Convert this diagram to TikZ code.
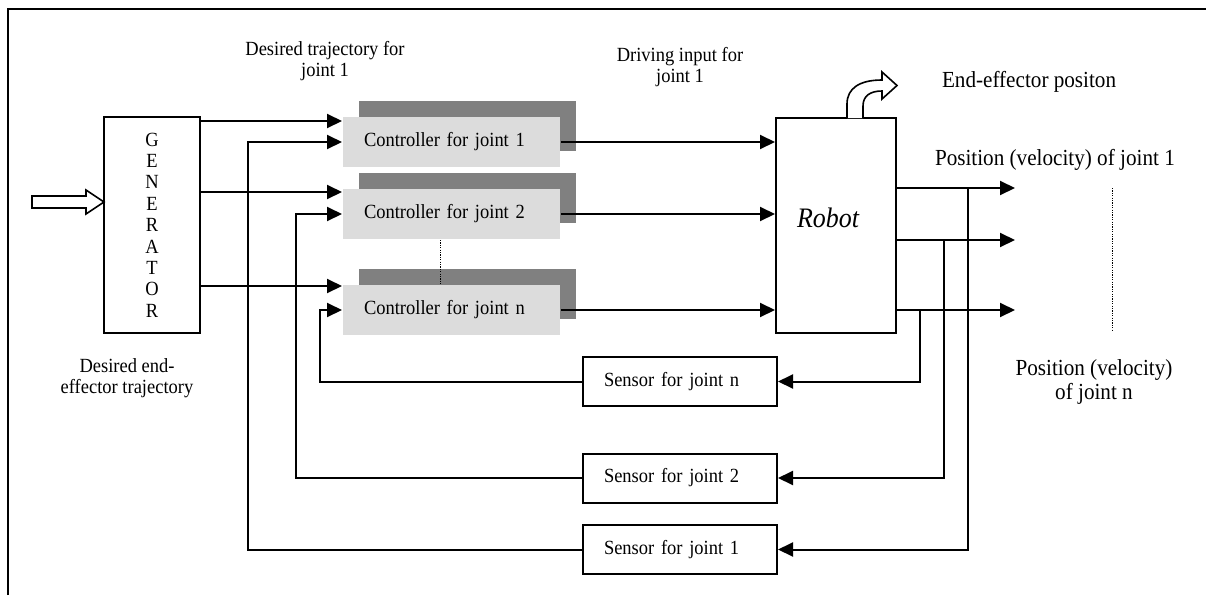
\documentclass[tikz,border=0pt]{standalone}
\usepackage{fontspec}
\setmainfont{Liberation Serif}[FakeStretch=0.92]
\usetikzlibrary{arrows.meta,shadows}

\definecolor{ctrlfill}{HTML}{DCDCDC}
\definecolor{ctrlshade}{HTML}{808080}

\begin{document}
\begin{tikzpicture}[x=0.5pt,y=-0.5pt,
  line width=1pt,
  >={Triangle[length=7.5pt,width=7pt]},
  txt/.style={inner sep=0pt, align=center, font=\fontsize{10.05}{10.5}\selectfont},
  bigtxt/.style={inner sep=0pt, align=center, font=\fontsize{11.5}{12}\selectfont},
  ctrlbox/.style={fill=ctrlfill, text width=87.5pt, inner xsep=10.5pt, inner ysep=0pt,
    minimum height=25pt, align=left, font=\fontsize{10.05}{11}\selectfont,
    drop shadow={shadow xshift=8pt, shadow yshift=8pt, opacity=1, fill=ctrlshade}},
  sensorbox/.style={draw, fill=white, text width=76pt, inner xsep=10.5pt, inner ysep=0pt,
    minimum height=24.5pt, align=left, font=\fontsize{10.05}{11}\selectfont},
  plainbox/.style={draw, fill=white, inner sep=0pt},
  dots/.style={line width=0.5pt, dash pattern=on 0.6pt off 0.6pt},
  hollow/.style={draw, fill=white, line width=0.8pt, line join=miter}
]
\useasboundingbox (0,0) rectangle (1206,595);

% frame
\draw (8,595) -- (8,9) -- (1206,9);

% generator
\node[plainbox, minimum width=48pt, minimum height=108pt, align=center,
  font=\fontsize{10.05}{10.7}\selectfont] (gen) at (152,225)
  {G\\E\\N\\E\\R\\A\\T\\O\\R};

% controllers (shadow offset up and right)
\node[ctrlbox] (c1) at (451.5,142) {Controller for joint 1};
\node[ctrlbox] (c2) at (451.5,214) {Controller for joint 2};
\node[ctrlbox] (cn) at (451.5,310) {Controller for joint n};
\draw[dots] ([xshift=-5.75pt]c2.south) -- ([xshift=-5.75pt]cn.north);

% robot
\node[plainbox, minimum width=60pt, minimum height=107.5pt] (robot) at (836,225.5) {};
\node[inner sep=0pt, font=\fontsize{14.1}{15}\selectfont\itshape] (robotlbl) at (828,218) {Robot};

% sensors
\node[sensorbox] (sn) at (680,381.5) {Sensor for joint n};
\node[sensorbox] (s2) at (680,478) {Sensor for joint 2};
\node[sensorbox] (s1) at (680,549.5) {Sensor for joint 1};

% input arrow into generator
\coordinate (gin) at (104,202);
\draw[hollow] (32,196) -- (86,196) -- (86,190) -- (gin) -- (86,214) -- (86,208) -- (32,208) -- cycle;

% end-effector output arrow
\draw[hollow] (847,118) -- (847,104) .. controls (847,88) and (860,80) .. (882,80)
  -- (882,72) -- (897,85.5) -- (882,99) -- (882,91)
  .. controls (870,91) and (863,96) .. (863,106) -- (863,118);

% generator to controllers
\coordinate (d1) at ([yshift=-2.5pt]c1.north west);
\coordinate (d2) at ([yshift=-2pt]c2.north west);
\coordinate (dn) at ([yshift=-1pt]cn.north west);
\draw[->] (gen.east |- d1) -- (d1);
\draw[->] (gen.east |- d2) -- (d2);
\draw[->] (gen.east |- dn) -- (dn);

% controllers to robot
\draw[->] (c1.east) -- (robot.west |- c1.east);
\draw[->] (c2.east) -- (robot.west |- c2.east);
\draw[->] (cn.east) -- (robot.west |- cn.east);

% robot outputs
\coordinate (q1) at (robot.east |- c2.north);
\coordinate (q2) at (robot.east |- c2.south);
\coordinate (qn) at (robot.east |- cn.east);
\coordinate (t1) at (1015,0);
\draw[->] (q1) -- (t1 |- q1);
\draw[->] (q2) -- (t1 |- q2);
\draw[->] (qn) -- (t1 |- qn);
\draw[dots] (1112,188) -- (1112,330);

% taps to sensors
\coordinate (b1) at (968,0);
\coordinate (b2) at (944,0);
\coordinate (bn) at (920,0);
\draw[->] (b1 |- q1) |- (s1.east);
\draw[->] (b2 |- q2) |- (s2.east);
\draw[->] (bn |- qn) |- (sn.east);

% feedback to controllers
\coordinate (f1) at (248,0);
\coordinate (f2) at (296,0);
\coordinate (fn) at (320,0);
\draw[->] (s1.west) -| (f1 |- c1.west) -- (c1.west);
\draw[->] (s2.west) -| (f2 |- c2.west) -- (c2.west);
\draw[->] (sn.west) -| (fn |- cn.west) -- (cn.west);

% labels
\node[txt] (lbltraj) at (325,61) {Desired trajectory for\\joint 1};
\node[txt] (lbldrive) at (680,67) {Driving input for\\joint 1};
\node[bigtxt, anchor=west] (lblend) at (941,82) {End-effector positon};
\node[bigtxt, anchor=west] (lblpos1) at (934,160) {Position (velocity) of joint 1};
\node[bigtxt] (lblposn) at (1094,382) {Position (velocity)\\of joint n};
\node[txt] (lbldes) at (127,378) {Desired end-\\effector trajectory};
\end{tikzpicture}
\end{document}
